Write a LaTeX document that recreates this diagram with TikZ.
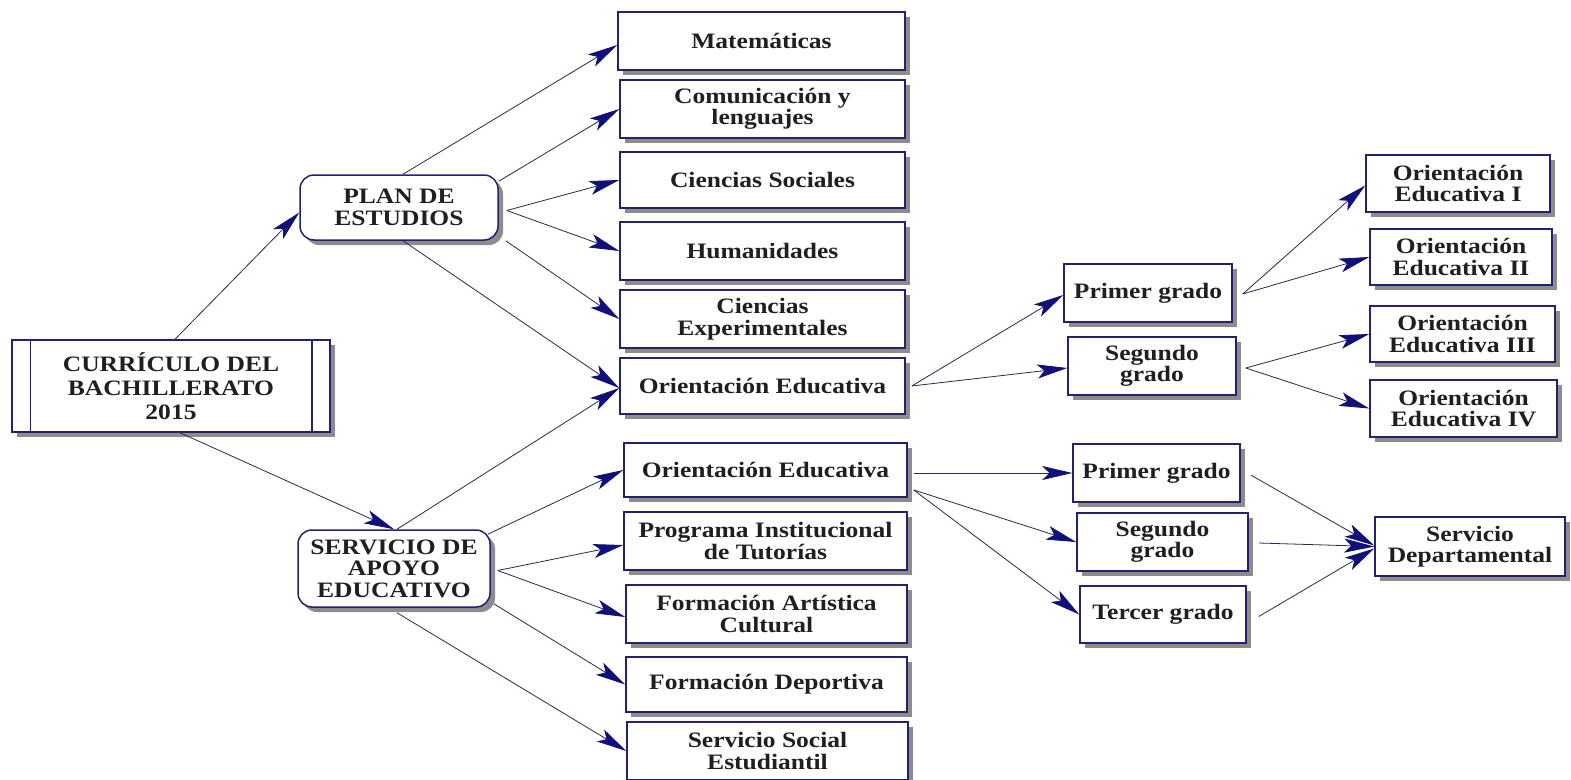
\documentclass[tikz,border=0pt]{standalone}
\usepackage{fontspec}
\setmainfont{Liberation Serif}[FakeStretch=1.16]
\usetikzlibrary{arrows.meta,shadows}
\definecolor{navy}{RGB}{34,34,110}
\definecolor{tipc}{RGB}{16,16,120}
\definecolor{linec}{RGB}{40,40,80}
\begin{document}
\begin{tikzpicture}[x=1pt,y=-1pt,
 box/.style={draw=navy,line width=1.5pt,fill=white,
   drop shadow={shadow xshift=5pt,shadow yshift=-5pt,fill=black!50,opacity=0.9},
   align=center,font=\fontsize{22}{21.5}\selectfont\bfseries,text=black!88,inner sep=2pt},
 rbox/.style={box,rounded corners=14pt},
 arr/.style={draw=linec,line width=0.8pt,-{Stealth[length=30pt,width=14pt,inset=7pt,color=tipc]}}]
\useasboundingbox (0,0) rectangle (1571,779);
\fill[white] (0,0) rectangle (1571,779);
\clip (0,0) rectangle (1571,779);

\node[box,minimum width=318pt,minimum height=92pt,font=\fontsize{22}{24}\selectfont\bfseries] (cur) at (171,386) {CURRÍCULO DEL\\BACHILLERATO\\2015};
\draw[navy,line width=1.5pt] ([xshift=19pt]cur.north west) -- ([xshift=19pt]cur.south west);
\draw[navy,line width=1.5pt] ([xshift=-19pt]cur.north east) -- ([xshift=-19pt]cur.south east);

\node[rbox,minimum width=198pt,minimum height=65pt] (plan) at (399,207.5) {PLAN DE\\ESTUDIOS};
\node[rbox,minimum width=192pt,minimum height=77pt] (serv) at (394,568.5) {SERVICIO DE\\APOYO\\EDUCATIVO};

\node[box,minimum width=287pt,minimum height=58pt] (mat) at (761.5,41) {Matemáticas};
\node[box,minimum width=285pt,minimum height=58pt] (com) at (762.5,109) {Comunicación y\\lenguajes};
\node[box,minimum width=285pt,minimum height=56pt] (cs) at (762.5,180) {Ciencias Sociales};
\node[box,minimum width=285pt,minimum height=58pt] (hum) at (762.5,251) {Humanidades};
\node[box,minimum width=285pt,minimum height=58pt] (ce) at (762.5,319) {Ciencias\\Experimentales};
\node[box,minimum width=285pt,minimum height=56pt] (oe1) at (762.5,386) {Orientación Educativa};

\node[box,minimum width=283pt,minimum height=54pt] (oe2) at (765.5,470) {Orientación Educativa};
\node[box,minimum width=283pt,minimum height=58pt] (pit) at (765.5,541) {Programa Institucional\\de Tutorías};
\node[box,minimum width=281pt,minimum height=58pt] (fac) at (766.5,614) {Formación Artística\\Cultural};
\node[box,minimum width=281pt,minimum height=55pt] (fd) at (766.5,684.5) {Formación Deportiva};
\node[box,minimum width=281pt,minimum height=58pt] (sse) at (767.5,751) {Servicio Social\\Estudiantil};

\node[box,minimum width=168pt,minimum height=58pt] (pg1) at (1148,293) {Primer grado};
\node[box,minimum width=168pt,minimum height=58pt] (sg1) at (1152,366) {Segundo\\grado};

\node[box,minimum width=184pt,minimum height=57pt] (oei) at (1458,183.5) {Orientación\\Educativa I};
\node[box,minimum width=182pt,minimum height=56pt] (oeii) at (1461,257) {Orientación\\Educativa II};
\node[box,minimum width=185pt,minimum height=56pt] (oeiii) at (1462.5,334) {Orientación\\Educativa III};
\node[box,minimum width=187pt,minimum height=57pt] (oeiv) at (1463.5,408.5) {Orientación\\Educativa IV};

\node[box,minimum width=167pt,minimum height=58pt] (pg2) at (1156.5,473) {Primer grado};
\node[box,minimum width=171pt,minimum height=58pt] (sg2) at (1162.5,542) {Segundo\\grado};
\node[box,minimum width=166pt,minimum height=57pt] (tg) at (1163,614.5) {Tercer grado};
\node[box,minimum width=190pt,minimum height=59pt] (sd) at (1470,546.5) {Servicio\\Departamental};

\draw[arr] ([shift={(4,0)}]cur.north) -- ([shift={(0,5)}]plan.west);
\draw[arr] ([shift={(9,0)}]cur.south) -- (serv.north);

\draw[arr] ([shift={(4,0)}]plan.north) -- ([shift={(0,4)}]mat.west);
\draw[arr] ([shift={(0,7)}]plan.north east) -- (com.west);
\draw[arr] ([shift={(8,3)}]plan.east) -- (cs.west);
\draw[arr] ([shift={(8,3)}]plan.east) -- (hum.west);
\draw[arr] ([shift={(7,0)}]plan.south east) -- (ce.west);
\draw[arr] ([shift={(4,0)}]plan.south) -- ([shift={(0,2)}]oe1.west);

\draw[arr] ([shift={(3,0)}]serv.north) -- ([shift={(0,2)}]oe1.west);
\draw[arr] ([shift={(-3,5)}]serv.north east) -- (oe2.west);
\draw[arr] ([shift={(7,2)}]serv.east) -- ([shift={(0,4)}]pit.west);
\draw[arr] ([shift={(7,2)}]serv.east) -- ([shift={(0,3)}]fac.west);
\draw[arr] ([shift={(3,-4)}]serv.south east) -- (fd.west);
\draw[arr] ([shift={(3,5)}]serv.south) -- (sse.west);

\draw[arr] ([shift={(6,0)}]oe1.east) -- ([shift={(0,2)}]pg1.west);
\draw[arr] ([shift={(6,0)}]oe1.east) -- ([shift={(0,2)}]sg1.west);
\draw[arr] ([shift={(10,1)}]pg1.east) -- ([shift={(0,2)}]oei.west);
\draw[arr] ([shift={(10,1)}]pg1.east) -- (oeii.west);
\draw[arr] ([shift={(9,2)}]sg1.east) -- (oeiii.west);
\draw[arr] ([shift={(9,2)}]sg1.east) -- (oeiv.west);

\draw[arr] ([shift={(6,3)}]oe2.east) -- (pg2.west);
\draw[arr] ([shift={(6,20)}]oe2.east) -- (sg2.west);
\draw[arr] ([shift={(6,20)}]oe2.east) -- (tg.west);

\draw[arr] ([shift={(10,2)}]pg2.east) -- ([shift={(0,-1)}]sd.west);
\draw[arr] ([shift={(10,1)}]sg2.east) -- (sd.west);
\draw[arr] ([shift={(12,2)}]tg.east) -- ([shift={(0,2)}]sd.west);
\end{tikzpicture}
\end{document}
